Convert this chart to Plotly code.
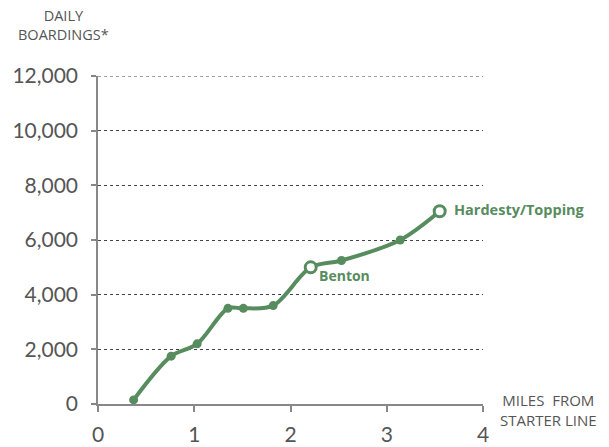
import plotly.graph_objects as go

# Station positions along the line and daily boardings
miles = [0.37, 0.76, 1.03, 1.35, 1.51, 1.82, 2.21, 2.53, 3.14, 3.55]
boardings = [150, 1750, 2200, 3500, 3500, 3600, 5000, 5250, 6000, 7050]

# Named stops drawn as open circles
named_idx = [6, 9]

y_ticks = [0, 2000, 4000, 6000, 8000, 10000, 12000]
x_ticks = [0, 1, 2, 3, 4]

green = "#578c5f"
grey = "#555555"
tick_font = "Lato, 'Open Sans', sans-serif"
label_font = "'Open Sans', Lato, sans-serif"

W, H = 609, 447
ML, MR, MT, MB = 98, 126, 76, 43
PW, PH = W - ML - MR, H - MT - MB


def px_to_paper(px, py):
    return (px - ML) / PW, (H - MB - py) / PH


fig = go.Figure()

fig.add_trace(go.Scatter(
    x=miles, y=boardings, mode="lines+markers",
    line=dict(color=green, width=4, shape="spline", smoothing=0.9),
    marker=dict(color=green, size=9),
    cliponaxis=False, hoverinfo="skip", showlegend=False,
))

fig.add_trace(go.Scatter(
    x=[miles[i] for i in named_idx], y=[boardings[i] for i in named_idx],
    mode="markers",
    marker=dict(color="white", size=11, line=dict(color=green, width=3)),
    cliponaxis=False, hoverinfo="skip", showlegend=False,
))

# Station name labels
fig.add_annotation(x=miles[6], y=boardings[6], text="<b>Benton</b>",
                   xanchor="left", yanchor="middle", xshift=6, yshift=-8,
                   showarrow=False, font=dict(color=green, size=14, family=label_font))
fig.add_annotation(x=miles[9], y=boardings[9], text="<b>Hardesty/Topping</b>",
                   xanchor="left", yanchor="middle", xshift=12, yshift=2,
                   showarrow=False, font=dict(color=green, size=14.5, family=label_font))

# Axis titles
ax, ay = px_to_paper(63, 25)
fig.add_annotation(x=ax, y=ay, xref="paper", yref="paper", text="DAILY<br>BOARDINGS*",
                   xanchor="center", yanchor="middle", align="center",
                   showarrow=False, font=dict(color=grey, size=14.5, family=label_font))
bx, by = px_to_paper(548, 410)
fig.add_annotation(x=bx, y=by, xref="paper", yref="paper", text="MILES  FROM<br>STARTER LINE",
                   xanchor="center", yanchor="middle", align="center",
                   showarrow=False, font=dict(color=grey, size=15, family=label_font))

# Top grid line at the end of the range
fig.add_shape(type="line", xref="x", yref="y", x0=x_ticks[0], x1=x_ticks[-1],
              y0=y_ticks[-1], y1=y_ticks[-1],
              line=dict(color="#444444", width=1, dash="dot"), layer="below")

fig.update_xaxes(
    range=[0, 4], tickvals=x_ticks, ticktext=[str(v) for v in x_ticks],
    showgrid=False, zeroline=False, showline=True, linecolor="#888888", linewidth=1.5,
    ticks="outside", ticklen=6, tickcolor="#888888", tickwidth=1.5,
    tickfont=dict(size=21, color=grey, family=tick_font), ticklabelstandoff=5,
    automargin=False,
)
fig.update_yaxes(
    range=[0, 12000], tickvals=y_ticks, ticktext=[f"{v:,}" for v in y_ticks],
    showgrid=True, gridcolor="#444444", griddash="dot", gridwidth=1,
    zeroline=False, showline=True, linecolor="#888888", linewidth=1.5,
    ticks="outside", ticklen=5, tickcolor="#888888", tickwidth=1.5,
    tickfont=dict(size=21, color=grey, family=tick_font), ticklabelstandoff=9,
    automargin=False,
)

fig.update_layout(
    width=W, height=H,
    margin=dict(l=ML, r=MR, t=MT, b=MB),
    plot_bgcolor="white", paper_bgcolor="white",
)

fig.write_html("out.html")
